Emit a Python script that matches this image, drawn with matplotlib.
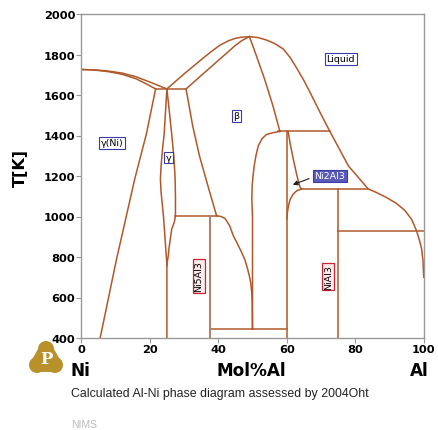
import numpy as np
import matplotlib
matplotlib.use("Agg")
import matplotlib.pyplot as plt
from matplotlib.patches import Circle, Polygon

# phase boundaries: (Mol% Al, T[K])
liq_ni_x = [0, 4, 8, 12, 16, 20, 25.0]
liq_ni_t = [1726, 1724, 1718, 1708, 1690, 1664, 1630]
sol_ni_x = [0, 4, 8, 12, 16, 19, 21.7]
sol_ni_t = [1726, 1723, 1715, 1702, 1680, 1655, 1630]
gam_solv_x = [21.7, 19.0, 15.6, 10.3, 5.5]
gam_solv_t = [1630, 1407, 1185, 790, 400]
gp_left_x = [25.0, 24.6, 24.2, 23.7, 23.3, 23.1, 23.3, 23.5, 24.0, 24.3, 24.6, 24.85, 25.0, 25.0]
gp_left_t = [1630, 1520, 1407, 1330, 1250, 1185, 1120, 1086, 1000, 930, 856, 800, 757, 400]
gp_right_x = [25.0, 25.7, 26.4, 27.0, 27.3, 27.4, 27.5, 27.5, 27.2, 26.8, 26.4, 26.0, 25.6, 25.4, 25.15, 25.0]
gp_right_t = [1630, 1520, 1407, 1300, 1220, 1185, 1100, 1004, 975, 955, 938, 890, 840, 806, 780, 757]
beta_liq_l_x = [25.0, 30, 35, 38, 40.5, 43, 45, 47, 49.1]
beta_liq_l_t = [1630, 1704, 1774, 1815, 1846, 1868, 1880, 1886, 1888]
beta_sol_l_x = [30.6, 35, 40.5, 43, 45, 47, 49.1]
beta_sol_l_t = [1630, 1696, 1778, 1815, 1845, 1870, 1888]
beta_left_x = [30.6, 32.5, 34.5, 37.0, 39.5]
beta_left_t = [1630, 1450, 1300, 1150, 1004]
beta_low_x = [39.5, 40.8, 42.0, 43.3, 44.4, 45.7, 46.9, 47.8, 48.5, 49.1, 49.5, 49.8, 49.9, 50.0]
beta_low_t = [1004, 1000, 990, 955, 905, 862, 820, 785, 745, 705, 670, 620, 580, 444]
beta_sol_r_x = [49.1, 51, 53.5, 56, 58]
beta_sol_r_t = [1888, 1800, 1680, 1545, 1420]
beta_right_x = [58, 56, 54.1, 52.8, 51.7, 51.0, 50.5, 50.1, 49.9, 49.8, 50.0, 50.0]
beta_right_t = [1420, 1414, 1405, 1385, 1350, 1300, 1251, 1190, 1152, 1086, 1000, 444]
liq_r_x = [49.1, 51.5, 54, 56.5, 59, 61, 63, 65, 66.8, 70, 72.6, 78, 83.8,
           86, 89, 92, 94.5, 96.5, 97.9, 98.8, 99.4, 99.8, 100]
liq_r_t = [1888, 1884, 1872, 1854, 1827, 1785, 1730, 1672, 1613, 1505, 1420, 1250, 1136,
           1120, 1095, 1065, 1030, 985, 930, 880, 840, 780, 700]
ni2al3_x = [60.4, 61.0, 61.9, 63.0, 63.9, 64.4, 63.0, 61.9, 61.0, 60.5, 60.2, 60.0]
ni2al3_t = [1420, 1360, 1284, 1200, 1144, 1136, 1128, 1111, 1085, 1053, 1020, 988]

# invariant lines: (x0, x1, T)
horiz = [(21.7, 30.6, 1630), (27.5, 39.5, 1004), (57.5, 72.6, 1420),
         (64.4, 83.8, 1136), (75.0, 100, 930), (37.5, 60.0, 444)]
# compounds: (x, T0, T1)
vert = [(60.0, 1420, 400), (75.0, 1136, 400)]
ni5al3 = (37.5, 1004, 400)

labels = [("γ(Ni)", 9.0, 1363), ("γ", 25.5, 1291), ("β", 45.3, 1498),
          ("Liquid", 75.8, 1779)]
red_labels = [("Ni5Al3", 34.4, 706), ("NiAl3", 72.1, 703)]

line_col = "#b0582a"
fig = plt.figure(figsize=(4.39, 4.31), dpi=100)
ax = fig.add_axes([81.3 / 439, 92 / 431, 342.4 / 439, 324 / 431])

curves = [(liq_ni_x, liq_ni_t), (sol_ni_x, sol_ni_t), (gam_solv_x, gam_solv_t),
          (gp_left_x, gp_left_t), (gp_right_x, gp_right_t),
          (beta_liq_l_x, beta_liq_l_t), (beta_sol_l_x, beta_sol_l_t),
          (beta_left_x, beta_left_t), (beta_low_x, beta_low_t),
          (beta_sol_r_x, beta_sol_r_t), (beta_right_x, beta_right_t),
          (liq_r_x, liq_r_t), (ni2al3_x, ni2al3_t)]
for xs, ts in curves:
    ax.plot(xs, ts, color=line_col, lw=1.1, solid_joinstyle="round")
for x0, x1, t in horiz:
    ax.plot([x0, x1], [t, t], color=line_col, lw=1.1)
for x, t0, t1 in vert:
    ax.plot([x, x], [t0, t1], color=line_col, lw=1.1)
ax.plot([ni5al3[0]] * 2, ni5al3[1:], color="#b08068", lw=1.4)

for txt, x, t in labels:
    ax.text(x, t, txt, fontsize=6.8, ha="center", va="center",
            bbox=dict(boxstyle="square,pad=0.15", fc="white", ec="#3a3aa8", lw=0.8))
ax.text(72.6, 1201, "Ni2Al3", fontsize=6.8, ha="center", va="center", color="white",
        bbox=dict(boxstyle="square,pad=0.15", fc="#5a5ab8", ec="#3a3aa8", lw=0.8))
ax.annotate("", xy=(61.0, 1152), xytext=(67.3, 1192),
            arrowprops=dict(arrowstyle="-|>", color="#222222", lw=0.8, mutation_scale=7))
for txt, x, t in red_labels:
    ax.text(x, t, txt, fontsize=6.8, ha="center", va="center", rotation=90,
            bbox=dict(boxstyle="square,pad=0.15", fc="#fbecec", ec="#cc2233", lw=0.9))

ax.set_xlim(0, 100)
ax.set_ylim(400, 2000)
ax.set_xticks([0, 20, 40, 60, 80, 100])
ax.set_yticks(np.arange(400, 2001, 200))
for s in ax.spines.values():
    s.set_color("#999999")
    s.set_linewidth(1.0)
ax.tick_params(direction="out", length=3.3, width=0.8, color="#999999", pad=1.0,
               labelsize=8.2)
for lab in ax.get_xticklabels() + ax.get_yticklabels():
    lab.set_fontweight("bold")

# overlay in pixel coords for the texts below the plot and the logo
ov = fig.add_axes([0, 0, 1, 1], zorder=-1)
ov.set_xlim(0, 439)
ov.set_ylim(431, 0)
ov.axis("off")
ov.text(20, 168, "T[K]", rotation=90, fontsize=11.5, fontweight="bold", ha="center", va="center")
ov.text(71, 376, "Ni", fontsize=12.2, fontweight="bold", ha="left", va="baseline")
ov.text(251, 376, "Mol%Al", fontsize=12.2, fontweight="bold", ha="center", va="baseline")
ov.text(428.5, 376, "Al", fontsize=12.2, fontweight="bold", ha="right", va="baseline")
ov.text(71, 394, "Calculated Al-Ni phase diagram assessed by 2004Oht", fontsize=8.9,
        family="Liberation Sans", ha="left", va="center", color="#222222")
ov.text(71, 425, "NIMS", fontsize=7.5, family="Liberation Sans", ha="left", va="center",
        color="#bbbbbb")

gold = "#b8902c"
for cx, cy in [(46, 350), (37, 366), (55, 366)]:
    ov.add_patch(Circle((cx, cy), 8.0, fc=gold, ec="none"))
ov.add_patch(Polygon([(46, 350), (37, 366), (55, 366)], closed=True, fc=gold, ec=gold,
                     lw=10, joinstyle="round"))
ov.text(46, 360, "P", fontsize=12, fontweight="bold", family="DejaVu Serif", color="white",
        ha="center", va="center")

fig.savefig("out.png", dpi=100)
